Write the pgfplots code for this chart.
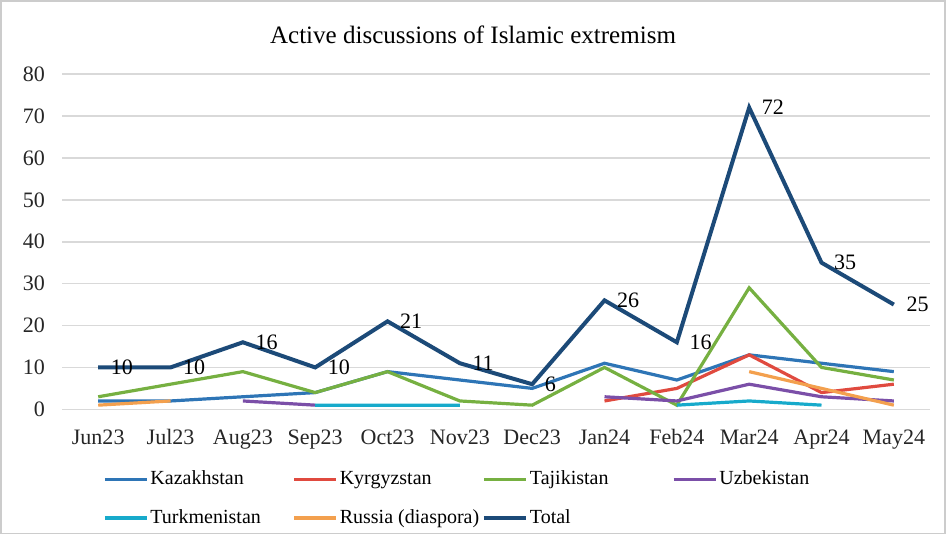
\documentclass[border=0pt]{standalone}
\usepackage{pgfplots}
\pgfplotsset{compat=1.18}
\usepackage{fontspec}
\setmainfont{Liberation Serif}
\definecolor{kaz}{HTML}{2E75B6}
\definecolor{kyr}{HTML}{E04A3F}
\definecolor{taj}{HTML}{76B041}
\definecolor{uzb}{HTML}{7B4FA8}
\definecolor{tur}{HTML}{17AACB}
\definecolor{rus}{HTML}{F3A04E}
\definecolor{tot}{HTML}{1C4A78}
\definecolor{gridc}{HTML}{D9D9D9}
\begin{document}
\begin{tikzpicture}
\begin{axis}[
  scale only axis,
  width=433.6pt, height=167.5pt,
  xmin=-0.5, xmax=11.5, ymin=0, ymax=80,
  ytick={0,10,...,80},
  xtick={0,...,11},
  xticklabels={Jun23,Jul23,Aug23,Sep23,Oct23,Nov23,Dec23,Jan24,Feb24,Mar24,Apr24,May24},
  axis line style={draw=none},
  major tick length=0pt,
  ymajorgrids, grid style={gridc, line width=0.8pt},
  /pgf/number format/assume math mode=true,
  tick label style={font=\fontsize{11}{13}\selectfont, black!85},
  xticklabel style={yshift=-6.5pt},
  yticklabel style={xshift=-5pt},
  unbounded coords=jump,
  every axis plot/.append style={line width=1.6pt, mark=none},
  legend image code/.code={\draw[#1] (0pt,0pt) -- (21pt,0pt);},
  legend style={
    at={(axis description cs:0.04,-0.158)}, anchor=north west,
    draw=none, fill=none, legend columns=4,
    font=\fontsize{10}{12}\selectfont,
    /tikz/every even column/.append style={column sep=0pt},
    /tikz/every odd column/.append style={column sep=0pt},
    nodes={inner xsep=1pt},
    row sep=7pt,
  },
  legend cell align=left,
]
\addplot[kaz] coordinates {(0,2)(1,2)(2,3)(3,4)(4,9)(5,7)(6,5)(7,11)(8,7)(9,13)(10,11)(11,9)};
\addlegendentry{\makebox[70pt][l]{Kazakhstan}}
\addplot[kyr] coordinates {(7,2)(8,5)(9,13)(10,4)(11,6)};
\addlegendentry{\makebox[70pt][l]{Kyrgyzstan}}
\addplot[taj] coordinates {(0,3)(1,6)(2,9)(3,4)(4,9)(5,2)(6,1)(7,10)(8,1)(9,29)(10,10)(11,7)};
\addlegendentry{\makebox[70pt][l]{Tajikistan}}
\addplot[uzb] coordinates {(2,2)(3,1)(4,nan)(7,3)(8,2)(9,6)(10,3)(11,2)};
\addlegendentry{\makebox[70pt][l]{Uzbekistan}}
\addplot[tur] coordinates {(3,1)(4,1)(5,1)(6,nan)(8,1)(9,2)(10,1)};
\addlegendentry{\makebox[70pt][l]{Turkmenistan}}
\addplot[rus] coordinates {(0,1)(1,2)(2,nan)(9,9)(10,5)(11,1)};
\addlegendentry{\makebox[70pt][l]{Russia (diaspora)}}
\addplot[tot, line width=2pt, nodes near coords,
  every node near coord/.append style={anchor=west, xshift=2pt, black, font=\fontsize{11}{13}\selectfont}]
  coordinates {(0,10)(1,10)(2,16)(3,10)(4,21)(5,11)(6,6)(7,26)(8,16)(9,72)(10,35)(11,25)};
\addlegendentry{\makebox[70pt][l]{Total}}
\coordinate (T) at (rel axis cs:0.4735,1);
\coordinate (SW) at (rel axis cs:0,0);
\coordinate (NE) at (rel axis cs:1,1);
\end{axis}
\node[font=\fontsize{12.5}{15}\selectfont] at ([yshift=19.5pt]T) {Active discussions of Islamic extremism};
\draw[black!20, line width=0.8pt] ([shift={(-30.6pt,-62.1pt)}]SW) rectangle ([shift={(7.6pt,36.6pt)}]NE);
\end{tikzpicture}
\end{document}
